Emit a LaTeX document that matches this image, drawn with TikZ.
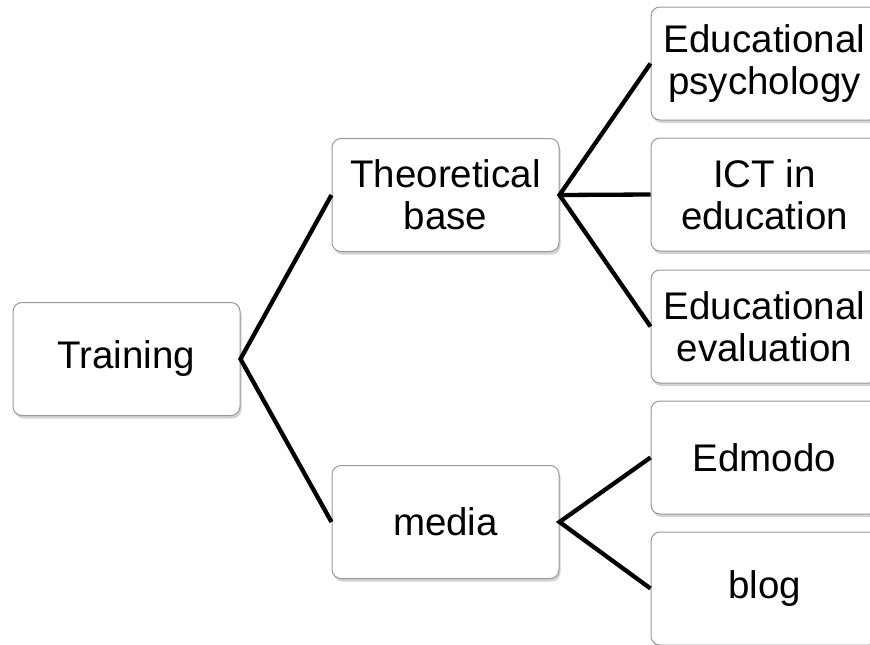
\documentclass[tikz,border=0pt]{standalone}
\usepackage{fontspec}
\setmainfont{Liberation Sans}
\usetikzlibrary{shadows}
\begin{document}
\begin{tikzpicture}[x=1pt,y=-1pt,
  box/.style={draw=black!40, line width=1pt, fill=white, rounded corners=9pt,
    minimum width=227pt, minimum height=113pt, inner sep=0pt, align=center,
    font=\fontsize{38.5}{42}\selectfont,
    drop shadow={opacity=0.35, shadow xshift=1.5pt, shadow yshift=-3pt}},
  link/.style={line width=4.3pt, line join=miter}]
\useasboundingbox (0,0) rectangle (870,645);
\clip (0,0) rectangle (870,645);
\node[box] (train) at (126.5,359) {Training};
\node[box] (theo) at (445.5,195) {Theoretical\\base};
\node[box] (media) at (445.5,522) {media};
\node[box] (psy) at (764.5,63.5) {Educational\\psychology};
\node[box] (ict) at (764.5,194.5) {ICT in\\education};
\node[box] (eval) at (764.5,326.5) {Educational\\evaluation};
\node[box] (edm) at (764.5,457.5) {Edmodo};
\node[box] (blog) at (764.5,588.5) {blog};
\draw[link] (theo.west) -- (train.east) -- (media.west);
\draw[link] (psy.west) -- (theo.east) -- (eval.west);
\draw[link] (theo.east) -- (ict.west);
\draw[link] (edm.west) -- (media.east) -- (blog.west);
\end{tikzpicture}
\end{document}
